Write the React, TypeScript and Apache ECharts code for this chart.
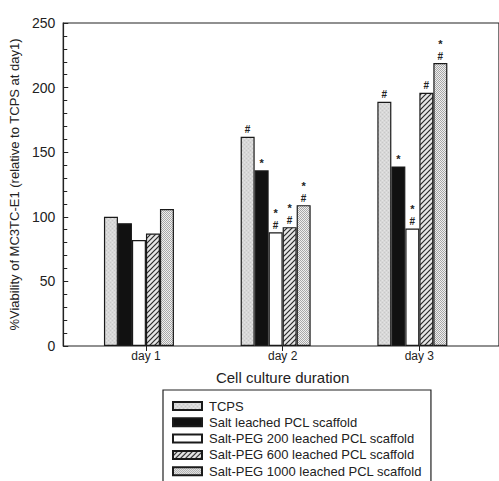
import React, { useEffect, useRef } from "react";
import * as echarts from "echarts";

const categories = ["day 1", "day 2", "day 3"];
const seriesNames = [
  "TCPS",
  "Salt leached PCL scaffold",
  "Salt-PEG 200 leached PCL scaffold",
  "Salt-PEG 600 leached PCL scaffold",
  "Salt-PEG 1000 leached PCL scaffold",
];
const tcps = [100, 162, 189];
const saltLeached = [95, 136, 139];
const peg200 = [82, 88, 91];
const peg600 = [87, 92, 196];
const peg1000 = [106, 109, 219];

const tcpsMarks = ["", "#", "#"];
const saltMarks = ["", "*", "*"];
const peg200Marks = ["", "*\n#", "*\n#"];
const peg600Marks = ["", "*\n#", "#"];
const peg1000Marks = ["", "*\n#", "*\n#"];

const yMin = 0;
const yMax = 250;
const yInterval = 50;
const xTitle = "Cell culture duration";
const yTitle = "%Viability of MC3TC-E1 (relative to TCPS at day1)";

const FONT = 'Arial, "Liberation Sans", Helvetica, sans-serif';

function makePattern(kind: string): any {
  const c = document.createElement("canvas");
  if (kind === "hatch") {
    c.width = 5;
    c.height = 5;
    const g = c.getContext("2d")!;
    g.fillStyle = "#e6e6e6";
    g.fillRect(0, 0, 5, 5);
    g.strokeStyle = "#2a2a2a";
    g.lineWidth = 1.2;
    g.beginPath();
    g.moveTo(-1, 6);
    g.lineTo(6, -1);
    g.moveTo(-1, 1);
    g.lineTo(1, -1);
    g.moveTo(4, 6);
    g.lineTo(6, 4);
    g.stroke();
  } else if (kind === "dots") {
    c.width = 2;
    c.height = 2;
    const g = c.getContext("2d")!;
    g.fillStyle = "#efefef";
    g.fillRect(0, 0, 2, 2);
    g.fillStyle = "#a8a8a8";
    g.fillRect(0, 0, 1, 1);
    g.fillRect(1, 1, 1, 1);
  } else {
    c.width = 4;
    c.height = 4;
    const g = c.getContext("2d")!;
    g.fillStyle = "#d8d8d8";
    g.fillRect(0, 0, 4, 4);
    g.fillStyle = "#c8c8c8";
    g.fillRect(0, 0, 1, 1);
    g.fillRect(2, 2, 1, 1);
    g.fillStyle = "#e4e4e4";
    g.fillRect(2, 0, 1, 1);
    g.fillRect(0, 2, 1, 1);
  }
  return { image: c, repeat: "repeat" };
}

export default function App() {
  const ref = useRef<HTMLDivElement>(null);
  useEffect(() => {
    if (!ref.current) return;
    const chart = echarts.init(ref.current, null, { renderer: "svg" });
    const values = [tcps, saltLeached, peg200, peg600, peg1000];
    const marks = [tcpsMarks, saltMarks, peg200Marks, peg600Marks, peg1000Marks];
    const fills = [
      makePattern("tcps"),
      "#111111",
      "#ffffff",
      makePattern("hatch"),
      makePattern("dots"),
    ];
    const toRich = (s: string) =>
      s
        .split("\n")
        .map((line) => (line === "*" ? "{s|*}" : line === "#" ? "{h|#}" : line))
        .join("\n");

    const series = values.map((vals, i) => ({
      name: seriesNames[i],
      type: "bar",
      xAxisIndex: 1,
      yAxisIndex: 1,
      data: vals,
      barWidth: 14,
      barGap: "0%",
      itemStyle: {
        color: fills[i],
        borderColor: "#1a1a1a",
        borderWidth: 1.2,
      },
      label: {
        show: true,
        position: "top",
        distance: 1,
        formatter: (p: any) => toRich(marks[i][p.dataIndex] || ""),
        color: "#222",
        rich: {
          s: { fontSize: 11, fontWeight: "bold", fontFamily: FONT, lineHeight: 12, color: "#222" },
          h: { fontSize: 10, fontWeight: "bold", fontFamily: FONT, lineHeight: 12, color: "#222" },
        },
      },
    }));

    chart.setOption({
      animation: false,
      backgroundColor: "#ffffff",
      textStyle: { fontFamily: FONT },
      grid: [
        { left: 55, right: -30, top: 23, bottom: 135, show: true, borderColor: "#222", borderWidth: 1.2, z: 0 },
        { left: 70.6, right: 18.3, top: 23, bottom: 135 },
        { left: 77.6, right: 11.3, top: 23, bottom: 135 },
      ],
      xAxis: [
        { gridIndex: 0, type: "value", show: false },
        { gridIndex: 1, type: "category", data: categories, show: false },
        {
          gridIndex: 2,
          type: "category",
          data: categories,
          axisLine: { show: false },
          axisTick: { show: true, alignWithLabel: true, length: 5, lineStyle: { color: "#222" } },
          axisLabel: { fontSize: 12, color: "#222", margin: 4, fontFamily: FONT },
          name: xTitle,
          nameLocation: "middle",
          nameGap: 24,
          nameTextStyle: { fontSize: 15, color: "#222", fontFamily: FONT },
        },
      ],
      yAxis: [
        {
          gridIndex: 0,
          type: "value",
          min: yMin,
          max: yMax,
          interval: yInterval,
          axisLine: { show: true, lineStyle: { color: "#222", width: 1.2 } },
          axisTick: { show: true, inside: true, length: 5, lineStyle: { color: "#222" } },
          minorTick: { show: true, splitNumber: 5, length: 4, lineStyle: { color: "#222" } },
          splitLine: { show: false },
          axisLabel: { fontSize: 14, color: "#222", margin: 8, fontFamily: FONT },
          name: yTitle,
          nameLocation: "middle",
          nameGap: 20,
          nameTextStyle: { fontSize: 13, color: "#222", fontFamily: FONT },
        },
        { gridIndex: 1, type: "value", min: yMin, max: yMax, interval: yInterval, show: false },
        { gridIndex: 2, type: "value", min: yMin, max: yMax, interval: yInterval, show: false },
      ],
      legend: {
        orient: "vertical",
        left: 163,
        top: 390,
        height: 110,
        data: seriesNames,
        selectedMode: false,
        icon: "rect",
        itemWidth: 29,
        itemHeight: 8,
        itemGap: 2.3,
        padding: [9, 9, 14, 9],
        borderColor: "#222",
        borderWidth: 1.2,
        textStyle: { fontSize: 13, color: "#222", fontFamily: FONT, lineHeight: 14, padding: [0, 0, 0, 2] },
      },
      series,
    });
    return () => chart.dispose();
  }, []);
  return (
    <div
      ref={ref}
      style={{ position: "fixed", left: 0, top: 0, width: 499, height: 481, background: "#fff" }}
    />
  );
}
